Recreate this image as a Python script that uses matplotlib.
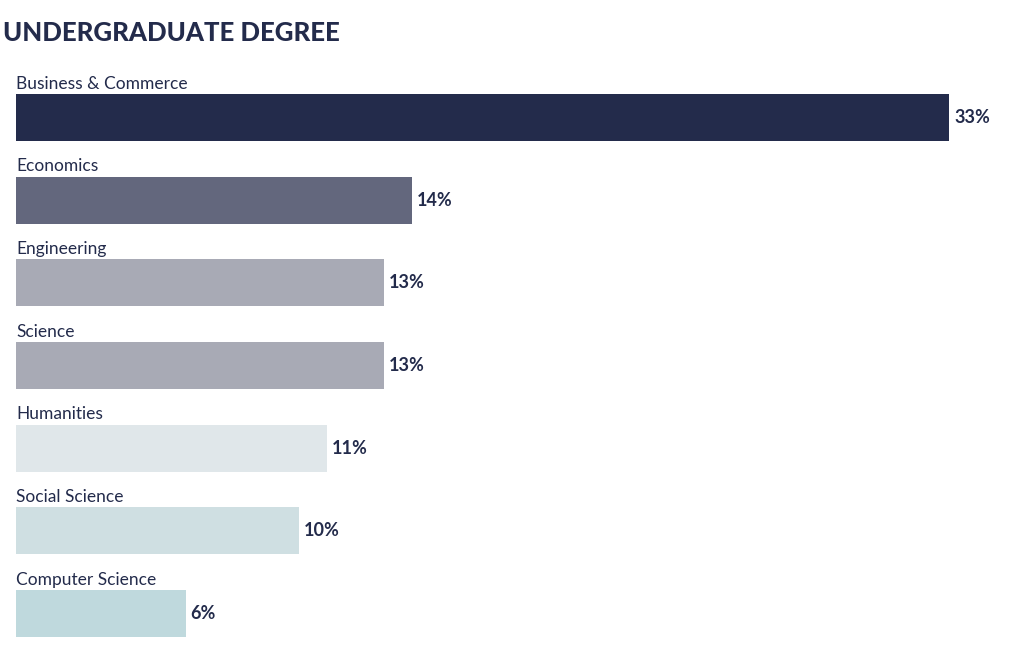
import matplotlib
matplotlib.use("Agg")
import matplotlib.pyplot as plt

# data
categories = ["Business & Commerce", "Economics", "Engineering", "Science",
              "Humanities", "Social Science", "Computer Science"]
values = [33, 14, 13, 13, 11, 10, 6]
bar_colors = ["#232b4b", "#63677d", "#a8aab5", "#a8aab5",
              "#e0e7ea", "#cfdfe2", "#bfd9dd"]

plt.rcParams["font.family"] = ["Lato", "DejaVu Sans"]
text_color = "#232b4b"

fig = plt.figure(figsize=(10.2, 6.5), dpi=100)
ax = fig.add_axes([16 / 1020, 1 - 637 / 650, 933 / 1020, 543 / 650])

bar_h = 47 / 82.67
ypos = list(range(len(categories)))
ax.barh(ypos, values, height=bar_h, color=bar_colors)

for y, cat, v in zip(ypos, categories, values):
    ax.text(0, y - bar_h / 2 - 0.03, cat, ha="left", va="bottom",
            fontsize=12.5, color=text_color)
    ax.text(v + 0.18, y, f"{v}%", ha="left", va="center",
            fontsize=13, fontweight="bold", color=text_color)

ax.set_xlim(0, 33)
ax.set_ylim(len(categories) - 1 + bar_h / 2, -bar_h / 2)
ax.axis("off")

fig.text(3 / 1020, 1 - 33 / 650, "UNDERGRADUATE DEGREE", ha="left", va="center",
         fontsize=18.5, fontweight="black", color=text_color)

fig.savefig("out.png", dpi=100)
